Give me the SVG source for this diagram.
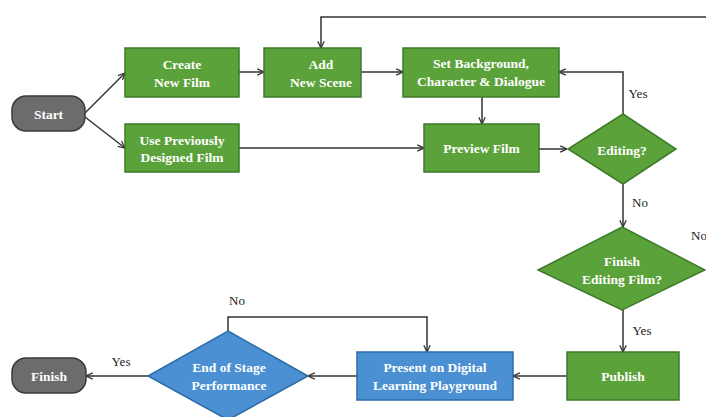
<svg xmlns="http://www.w3.org/2000/svg" width="706" height="417" viewBox="0 0 706 417">
<defs>
<marker id="arr" viewBox="0 0 10 10" refX="9.5" refY="5" markerWidth="8" markerHeight="8" orient="auto-start-reverse" markerUnits="userSpaceOnUse">
<path d="M1,1 L9.5,5 L1,9" fill="none" stroke="#333" stroke-width="1.6"/>
</marker>
<style>
.g{fill:#5ba23b;stroke:#3e7a2a;stroke-width:1.5}
.b{fill:#4a90d2;stroke:#2e6ba6;stroke-width:1.5}
.k{fill:#6c6c6c;stroke:#3a3a3a;stroke-width:1.5}
.t{font-family:'Liberation Serif','Times New Roman','DejaVu Serif',serif;font-weight:bold;font-size:13.5px;fill:#fff;text-anchor:middle}
.l{font-family:'Liberation Serif','Times New Roman','DejaVu Serif',serif;font-size:13px;fill:#222;text-anchor:middle}
.c{fill:none;stroke:#333;stroke-width:1.5;marker-end:url(#arr)}
</style>
</defs>
<rect width="706" height="417" fill="#fff"/>
<g id="connectors">
<path class="c" d="M85,113 L125,73"/>
<path class="c" d="M85,117 L125,148"/>
<path class="c" d="M239,72 L264,72"/>
<path class="c" d="M361,72 L403,72"/>
<path class="c" d="M706,17 L321,17 L321,48"/>
<path class="c" d="M239,148 L424,148"/>
<path class="c" d="M482,97 L482,124"/>
<path class="c" d="M539,149 L567,149"/>
<path class="c" d="M623,114 L623,72 L559,72"/>
<path class="c" d="M623,184 L623,227"/>
<path class="c" d="M623,310 L623,352"/>
<path class="c" d="M567,376 L513,376"/>
<path class="c" d="M357,376 L308,376"/>
<path class="c" d="M228,331 L228,317 L427,317 L427,352"/>
<path class="c" d="M148,376 L86,376"/>
<text class="l" x="638" y="98">Yes</text>
<text class="l" x="640" y="207">No</text>
<text class="l" x="699" y="240">No</text>
<text class="l" x="642" y="335">Yes</text>
<text class="l" x="237" y="305">No</text>
<text class="l" x="121" y="366">Yes</text>
</g>
<g id="start"><rect class="k" x="12" y="96" width="73" height="35" rx="14"/><text class="t" x="48.5" y="119">Start</text></g>
<g id="create"><rect class="g" x="125" y="48" width="114" height="49"/><text class="t" x="182" y="69">Create</text><text class="t" x="182" y="87">New Film</text></g>
<g id="addscene"><rect class="g" x="264" y="48" width="97" height="49"/><text class="t" x="321" y="69">Add</text><text class="t" x="321" y="87">New Scene</text></g>
<g id="setbg"><rect class="g" x="403" y="48" width="156" height="49"/><text class="t" x="481" y="68">Set Background,</text><text class="t" x="481" y="86">Character &amp; Dialogue</text></g>
<g id="useprev"><rect class="g" x="125" y="124" width="114" height="48"/><text class="t" x="182" y="145">Use Previously</text><text class="t" x="182" y="162">Designed Film</text></g>
<g id="preview"><rect class="g" x="424" y="124" width="115" height="48"/><text class="t" x="481.5" y="153">Preview Film</text></g>
<g id="editing"><polygon class="g" points="623,114 676,149 623,184 568,149"/><text class="t" x="622" y="155">Editing?</text></g>
<g id="finishediting"><polygon class="g" points="622,227 705,270 622,310 538,270"/><text class="t" x="622" y="266">Finish</text><text class="t" x="622" y="284">Editing Film?</text></g>
<g id="publish"><rect class="g" x="567" y="352" width="112" height="48"/><text class="t" x="623" y="381">Publish</text></g>
<g id="present"><rect class="b" x="357" y="352" width="156" height="48"/><text class="t" x="435" y="372">Present on Digital</text><text class="t" x="435" y="390">Learning Playground</text></g>
<g id="endstage"><polygon class="b" points="228,331 308,376 228,420 148,376"/><text class="t" x="229" y="372">End of Stage</text><text class="t" x="229" y="390">Performance</text></g>
<g id="finish"><rect class="k" x="12" y="358" width="74" height="35" rx="14"/><text class="t" x="49" y="381">Finish</text></g>
</svg>
